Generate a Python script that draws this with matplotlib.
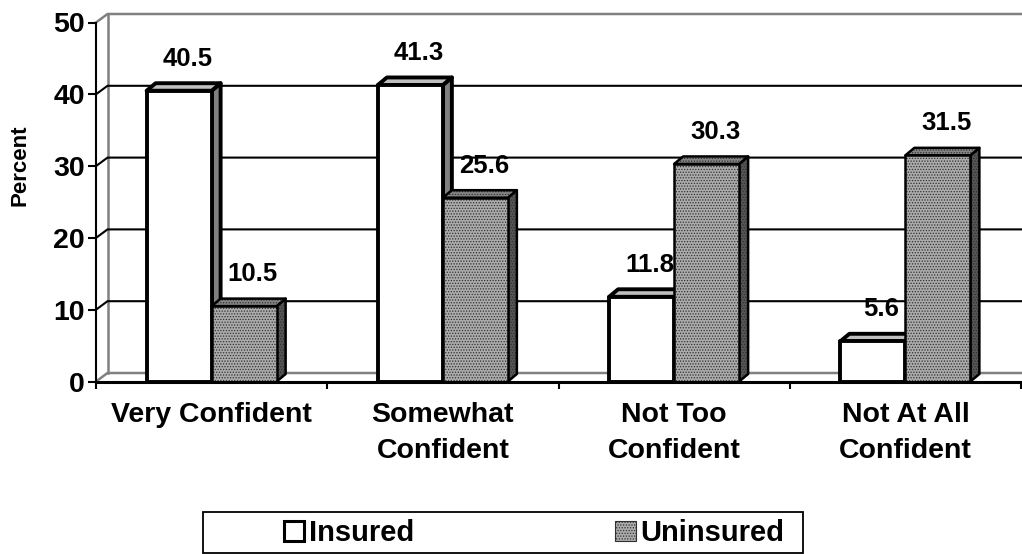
import matplotlib.pyplot as plt
from matplotlib.patches import Polygon, Rectangle, Patch

plt.rcParams['font.family'] = ['Liberation Sans', 'DejaVu Sans']
plt.rcParams['font.weight'] = 'bold'
plt.rcParams['hatch.linewidth'] = 0.6

categories = ['Very Confident', 'Somewhat\nConfident', 'Not Too\nConfident', 'Not At All\nConfident']
insured = [40.5, 41.3, 11.8, 5.6]
uninsured = [10.5, 25.6, 30.3, 31.5]
series_names = ['Insured', 'Uninsured']
y_ticks = [0, 10, 20, 30, 40, 50]

W, H = 1022, 554
fig = plt.figure(figsize=(W / 100, H / 100), dpi=100)

# front plane of the 3-D plot, in pixels
x0, x1 = 96, 1021
y0, y1 = 381.5, 22.5
ax = fig.add_axes([x0 / W, 1 - y0 / H, (x1 - x0) / W, (y0 - y1) / H])
ax.set_xlim(0, len(categories))
ax.set_ylim(0, 50)
ax.patch.set_visible(False)

# pixel -> data unit factors, used for the depth of walls and bars
px_x = len(categories) / (x1 - x0)
px_y = 50 / (y0 - y1)
wall_dx, wall_dy = 11.5 * px_x, 8.5 * px_y
bar_dx, bar_dy = 9 * px_x, 7.5 * px_y
bar_w = 65 * px_x

grey = '#808080'
x_end = len(categories) + 0.2

# side and back walls
ax.plot([0, wall_dx, x_end], [0, wall_dy, wall_dy], color=grey, lw=1.8, clip_on=False, zorder=1)
ax.plot([0, wall_dx, x_end], [50, 50 + wall_dy, 50 + wall_dy], color=grey, lw=1.8, clip_on=False, zorder=1)
ax.plot([wall_dx, wall_dx], [wall_dy, 50 + wall_dy], color=grey, lw=1.8, clip_on=False, zorder=1)
for v in y_ticks[1:-1]:
    ax.plot([0, wall_dx, x_end], [v, v + wall_dy, v + wall_dy], color='black', lw=1.5,
            clip_on=False, zorder=1)


def draw_bar(x, h, faces, lw, hatch=None):
    side = [(x + bar_w, 0), (x + bar_w + bar_dx, bar_dy), (x + bar_w + bar_dx, h + bar_dy), (x + bar_w, h)]
    top = [(x, h), (x + bar_dx, h + bar_dy), (x + bar_w + bar_dx, h + bar_dy), (x + bar_w, h)]
    front = [(x, 0), (x + bar_w, 0), (x + bar_w, h), (x, h)]
    for pts, fc in zip([side, top, front], faces):
        if hatch:
            ax.add_patch(Polygon(pts, closed=True, facecolor=fc, edgecolor='#303030', hatch=hatch,
                                 lw=0, clip_on=False, zorder=3))
            ax.add_patch(Polygon(pts, closed=True, fill=False, edgecolor='black', lw=lw,
                                 joinstyle='round', clip_on=False, zorder=3))
        else:
            ax.add_patch(Polygon(pts, closed=True, facecolor=fc, edgecolor='black', lw=lw,
                                 joinstyle='round', clip_on=False, zorder=3))


for i in range(len(categories)):
    c = i + 0.5
    draw_bar(c - bar_w, insured[i], ['#808080', '#c0c0c0', 'white'], 2.8)
    draw_bar(c, uninsured[i], ['#555555', '#858585', '#ababab'], 1.8, hatch='......')
    for x, v in [(c - bar_w, insured[i]), (c, uninsured[i])]:
        ax.annotate(f'{v}', xy=(x + bar_w / 2 + bar_dx / 2 + 4 * px_x, v + bar_dy), xytext=(0, 9),
                    textcoords='offset points', ha='center', va='bottom', fontsize=18.5,
                    fontweight='bold', zorder=5)

# front axes
for s in ['top', 'right']:
    ax.spines[s].set_visible(False)
ax.spines['left'].set_linewidth(1.5)
ax.spines['bottom'].set_linewidth(2.2)
ax.spines['left'].set_zorder(4)
ax.spines['bottom'].set_zorder(4)
ax.set_yticks(y_ticks)
ax.tick_params(axis='y', length=6, width=1.5, pad=2, labelsize=20.5)
ax.set_xticks(range(len(categories) + 1))
ax.set_xticklabels([])
ax.tick_params(axis='x', which='major', length=5, width=1.5)
ax.set_xticks([i + 0.5 for i in range(len(categories))], minor=True)
ax.set_xticklabels(categories, minor=True)
ax.tick_params(axis='x', which='minor', length=0, pad=15, labelsize=20.5)
for t in ax.get_xticklabels(minor=True):
    t.set_linespacing(1.5)
    t.set_va('top')

fig.text(20 / W, 1 - 165 / H, 'Percent', rotation=90, ha='center', va='center', fontsize=16,
         fontweight='bold')

# legend box
fig.patches.append(Rectangle((203 / W, 1 - 553 / H), 600 / W, 41 / H, transform=fig.transFigure,
                             fill=False, edgecolor='black', lw=1.3))
handles = [Patch(facecolor='white', edgecolor='black', lw=2.2),
           Patch(facecolor='#ababab', edgecolor='#303030', hatch='......', lw=0.8)]
fig.legend(handles, series_names, loc='center left', bbox_to_anchor=(284 / W, 1 - 533 / H),
           ncol=2, frameon=False, fontsize=21, handlelength=0.7, handleheight=0.7,
           handletextpad=0.15, columnspacing=6.9, borderpad=0, borderaxespad=0)

fig.savefig('out.png', dpi=100)
